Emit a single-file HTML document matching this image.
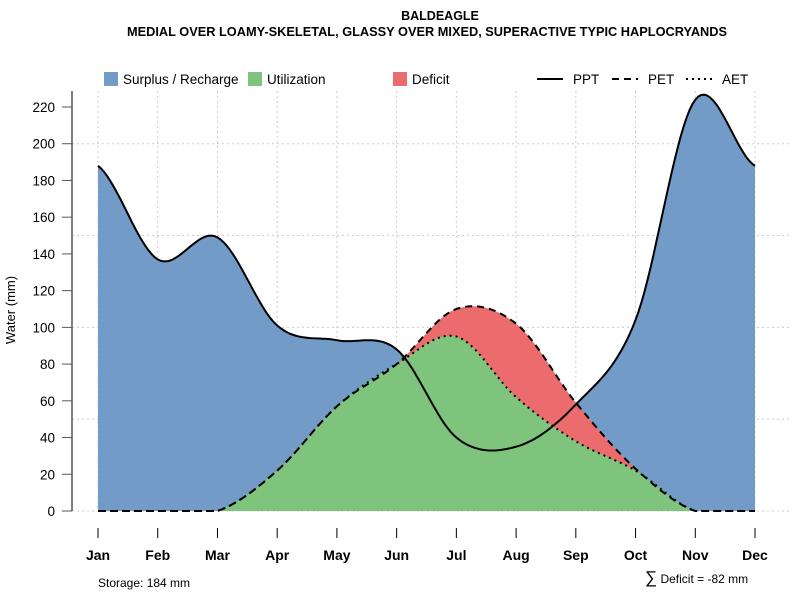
<!DOCTYPE html>
<html><head><meta charset="utf-8"><style>
body{margin:0;background:#fff;}
svg text{font-family:"Liberation Sans",sans-serif;}
</style></head><body>
<svg id="chart" width="800" height="600" xmlns="http://www.w3.org/2000/svg">
<text x="440" y="20" text-anchor="middle" font-size="12.5" font-weight="bold">BALDEAGLE</text>
<text x="427" y="36" text-anchor="middle" font-size="12.5" font-weight="bold" textLength="600" lengthAdjust="spacingAndGlyphs">MEDIAL OVER LOAMY-SKELETAL, GLASSY OVER MIXED, SUPERACTIVE TYPIC HAPLOCRYANDS</text>
<g id="grid"></g>
<g id="areas"></g>
<g id="lines"></g>
<g id="axes"></g>
<g font-size="13.5">
<rect x="104" y="72" width="14" height="14" fill="#729bc8"/>
<text x="123" y="84">Surplus / Recharge</text>
<rect x="248" y="72" width="14" height="14" fill="#7fc47c"/>
<text x="267" y="84">Utilization</text>
<rect x="393" y="72" width="14" height="14" fill="#ec6b6c"/>
<text x="412" y="84">Deficit</text>
<line x1="537" y1="79" x2="563" y2="79" stroke="#000" stroke-width="2"/>
<text x="573" y="84">PPT</text>
<line x1="612" y1="79" x2="638" y2="79" stroke="#000" stroke-width="2" stroke-dasharray="7,5"/>
<text x="648" y="84">PET</text>
<line x1="686" y1="79" x2="712" y2="79" stroke="#000" stroke-width="2" stroke-dasharray="2,4"/>
<text x="722" y="84">AET</text>
</g>
<text x="15" y="310" font-size="13" text-anchor="middle" transform="rotate(-90 15 310)">Water (mm)</text>
<text x="98" y="587" font-size="12">Storage: 184 mm</text>
<text x="645" y="583" font-size="12"><tspan font-size="17">∑</tspan> Deficit = -82 mm</text>
</svg>
<script>
const months=["Jan","Feb","Mar","Apr","May","Jun","Jul","Aug","Sep","Oct","Nov","Dec"];
const ppt=[188,137,149,101,93,88,40,35,58,104,224,188];
const pet=[0,0,0,22,57,80,110,102,59,23,0,0];
const aet=[0,0,0,22,57,80,95,62,38,22,0,0];
const yTicks=[0,20,40,60,80,100,120,140,160,180,200,220];
const yGrid=[0,50,100,150,200];
const NS="http://www.w3.org/2000/svg";
const X=i=>98+i*(755-98)/11;
const Y=v=>511-v*(511-107)/220;
function mk(tag,attrs,parent){const e=document.createElementNS(NS,tag);for(const k in attrs)e.setAttribute(k,attrs[k]);parent.appendChild(e);return e;}
function curve(vals){const pts=[];const n=vals.length;
 for(let i=0;i<n-1;i++){const p0=vals[Math.max(i-1,0)],p1=vals[i],p2=vals[i+1],p3=vals[Math.min(i+2,n-1)];
  for(let s=0;s<20;s++){const t=s/20,t2=t*t,t3=t2*t;
   let v=0.5*((2*p1)+(-p0+p2)*t+(2*p0-5*p1+4*p2-p3)*t2+(-p0+3*p1-3*p2+p3)*t3);
   if(v<0)v=0;pts.push([X(i+t),Y(v)]);}}
 pts.push([X(n-1),Y(vals[n-1])]);return pts;}
const grid=document.getElementById('grid'),areas=document.getElementById('areas'),lines=document.getElementById('lines'),axes=document.getElementById('axes');
yGrid.forEach(v=>{const l=mk('line',{x1:72,x2:790,y1:Y(v),y2:Y(v),stroke:'#ccc','stroke-dasharray':'2,3'},grid);

});
months.forEach((m,i)=>{const l=mk('line',{x1:X(i),x2:X(i),y1:91,y2:511,stroke:'#ccc','stroke-dasharray':'2,3'},grid);

});
function area(vals,fill,name){const p=curve(vals);let d='M'+X(0)+','+Y(0)+p.map(q=>'L'+q[0].toFixed(1)+','+q[1].toFixed(1)).join('')+'L'+X(11)+','+Y(0)+'Z';
const e=mk('path',{d:d,fill:fill},areas);

}
area(ppt,'#729bc8','surplus-area');
area(pet,'#ec6b6c','deficit-area');
area(aet,'#7fc47c','utilization-area');
function line(vals,dash,name){const p=curve(vals);const d='M'+p.map(q=>q[0].toFixed(1)+','+q[1].toFixed(1)).join('L');
const e=mk('path',{d:d,fill:'none',stroke:'#000','stroke-width':2,'stroke-dasharray':dash},lines);

}
line(ppt,'none','ppt-line');
line(pet,'7,5','pet-line');
line(aet,'2,4','aet-line');
mk('line',{x1:72,x2:72,y1:91,y2:511,stroke:'#555','stroke-width':1.5},axes);
yTicks.forEach(v=>{mk('line',{x1:62,x2:72,y1:Y(v),y2:Y(v),stroke:'#555'},axes);
const t=mk('text',{x:55,y:Y(v)+5,'text-anchor':'end','font-size':13.5},axes);t.textContent=v;

});
months.forEach((m,i)=>{mk('line',{x1:X(i),x2:X(i),y1:528,y2:538,stroke:'#000'},axes);
const t=mk('text',{x:X(i),y:560,'text-anchor':'middle','font-size':14,'font-weight':'bold'},axes);t.textContent=m;

});
</script>
</body></html>
